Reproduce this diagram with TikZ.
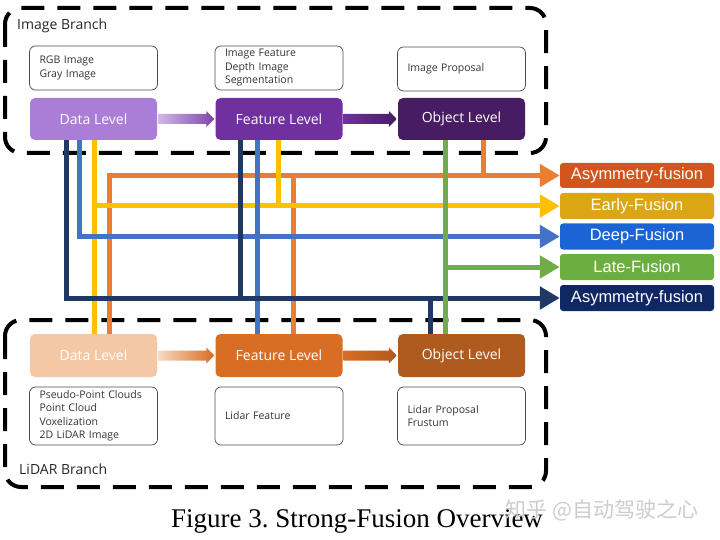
\documentclass[tikz,border=0pt]{standalone}
\usepackage{fontspec}
\newfontfamily\uifont{Open Sans}
\newfontfamily\arialfont{Liberation Sans}
\newfontfamily\capfont{Liberation Serif}
\newfontfamily\cjk{Noto Sans CJK SC}
\usetikzlibrary{arrows.meta,calc}
\definecolor{idatac}{HTML}{AA7DD7}
\definecolor{ifeatc}{HTML}{7030A0}
\definecolor{iobjc}{HTML}{481C62}
\definecolor{ldatac}{HTML}{F5C8A5}
\definecolor{lfeatc}{HTML}{D76E23}
\definecolor{lobjc}{HTML}{AF5A1E}
\definecolor{cnavy}{HTML}{1F3864}
\definecolor{cblue}{HTML}{4472C4}
\definecolor{cyellow}{HTML}{FFC000}
\definecolor{corange}{HTML}{ED7D31}
\definecolor{cgreen}{HTML}{70AD47}
\definecolor{fasymA}{HTML}{D2561C}
\definecolor{fearly}{HTML}{DBA514}
\definecolor{fdeep}{HTML}{1A64D6}
\definecolor{flate}{HTML}{6CAF41}
\definecolor{fasymB}{HTML}{0F2864}
\definecolor{txtgray}{HTML}{333333}
\frenchspacing
\begin{document}
\begin{tikzpicture}[x=1pt,y=-1pt,
  dashbox/.style={draw=black,line width=4pt,dash pattern=on 23pt off 13pt,rounded corners=16pt},
  level/.style={rounded corners=5pt,minimum width=127pt,minimum height=42pt,inner sep=0pt,text=white,font=\uifont\fontsize{14}{16}\selectfont},
  tbox/.style={draw=black!70,line width=0.7pt,rounded corners=6pt,minimum width=128pt,inner xsep=10pt,inner ysep=0pt,text width=108pt,align=left,text=txtgray,font=\uifont\fontsize{10.5}{13.5}\selectfont},
  fus/.style={rounded corners=3pt,minimum width=154pt,minimum height=25pt,inner sep=0pt,text=white,font=\arialfont\fontsize{16.5}{18}\selectfont},
  conn/.style={line width=5pt},
  fusarrow/.style={-{Triangle[length=20pt,width=22pt]}},
  branch/.style={anchor=west,inner sep=0pt,text=black!85,font=\uifont\fontsize{14}{16}\selectfont}
]
\useasboundingbox (0,0) rectangle (720,540);
% branch frames
\draw[dashbox] (5,8) rectangle (546,153);
\draw[dashbox] (5,320) rectangle (546,487);
\node[branch] (ibr) at (17,26) {Image Branch};
\node[branch] (lbr) at (19,469) {LiDAR Branch};
% image branch
\node[level,fill=idatac] (idata) at (93.5,119) {Data Level};
\node[level,fill=ifeatc] (ifeat) at (279,119) {Feature Level};
\node[level,fill=iobjc] (iobj) at (461.5,119) {Object Level};
\node[tbox,minimum height=44pt] (itxt1) at (93.5,68) {RGB Image\\Gray Image};
\node[tbox,minimum height=44pt] (itxt2) at (279,68) {Image Feature\\Depth Image\\Segmentation};
\node[tbox,minimum height=44pt] (itxt3) at (461.5,69) {Image Proposal};
% lidar branch
\node[level,fill=ldatac,minimum height=43pt] (ldata) at (93.5,355.5) {Data Level};
\node[level,fill=lfeatc,minimum height=43pt] (lfeat) at (279,355.5) {Feature Level};
\node[level,fill=lobjc,minimum height=43pt] (lobj) at (461.5,355.5) {Object Level};
\node[tbox,minimum height=58pt] (ltxt1) at (93.5,416) {Pseudo-Point Clouds\\Point Cloud\\Voxelization\\2D LiDAR Image};
\node[tbox,minimum height=58pt] (ltxt2) at (279,416) {Lidar Feature};
\node[tbox,minimum height=58pt] (ltxt3) at (461.5,416) {Lidar Proposal\\Frustum};
% fusion boxes
\node[fus,fill=fasymA] (asymA) at (637,175.5) {Asymmetry-fusion};
\node[fus,fill=fearly,minimum height=26pt] (early) at (637,206) {Early-Fusion};
\node[fus,fill=fdeep,minimum height=26pt] (deep) at (637,236.5) {Deep-Fusion};
\node[fus,fill=flate,minimum height=26pt] (late) at (637,267) {Late-Fusion};
\node[fus,fill=fasymB,minimum height=26pt] (asymB) at (637,298) {Asymmetry-fusion};
% gradient level arrows
\shade[left color=idatac!55!white,right color=ifeatc!90!white]
  ($(idata.east)+(1,-5)$) -- ($(ifeat.west)+(-9,-5)$) -- ($(ifeat.west)+(-9,-8)$) -- ($(ifeat.west)+(-1,0)$)
  -- ($(ifeat.west)+(-9,8)$) -- ($(ifeat.west)+(-9,5)$) -- ($(idata.east)+(1,5)$) -- cycle;
\shade[left color=ifeatc,right color=iobjc]
  ($(ifeat.east)+(1,-5)$) -- ($(iobj.west)+(-9,-5)$) -- ($(iobj.west)+(-9,-8)$) -- ($(iobj.west)+(-1,0)$)
  -- ($(iobj.west)+(-9,8)$) -- ($(iobj.west)+(-9,5)$) -- ($(ifeat.east)+(1,5)$) -- cycle;
\shade[left color=ldatac!70!white,right color=lfeatc]
  ($(ldata.east)+(1,-5)$) -- ($(lfeat.west)+(-9,-5)$) -- ($(lfeat.west)+(-9,-8)$) -- ($(lfeat.west)+(-1,0)$)
  -- ($(lfeat.west)+(-9,8)$) -- ($(lfeat.west)+(-9,5)$) -- ($(ldata.east)+(1,5)$) -- cycle;
\shade[left color=lfeatc,right color=lobjc]
  ($(lfeat.east)+(1,-5)$) -- ($(lobj.west)+(-9,-5)$) -- ($(lobj.west)+(-9,-8)$) -- ($(lobj.west)+(-1,0)$)
  -- ($(lobj.west)+(-9,8)$) -- ($(lobj.west)+(-9,5)$) -- ($(lfeat.east)+(1,5)$) -- cycle;
% x positions of the fusion connectors
\coordinate (xn1) at (66,0);
\coordinate (xn2) at (240,0);
\coordinate (xn3) at (430,0);
\coordinate (xb1) at (79,0);
\coordinate (xb2) at (257,0);
\coordinate (xy1) at (94,0);
\coordinate (xy2) at (278,0);
\coordinate (xo1) at (109,0);
\coordinate (xo2) at (293,0);
\coordinate (xo3) at (483,0);
\coordinate (xg) at (445,0);
% orange: asymmetry (image object + lidar data/feature)
\draw[conn,draw=corange,fusarrow] (ldata.north -| xo1) |- (asymA.west);
\draw[conn,draw=corange] (lfeat.north -| xo2) -- (xo2 |- asymA.west);
\draw[conn,draw=corange] (iobj.south -| xo3) -- (xo3 |- asymA.west);
% yellow: early fusion
\draw[conn,draw=cyellow] (idata.south -| xy1) -- (ldata.north -| xy1);
\draw[conn,draw=cyellow,fusarrow] (xy1 |- early.west) -- (early.west);
\draw[conn,draw=cyellow] (ifeat.south -| xy2) -- (xy2 |- early.west);
% blue: deep fusion
\draw[conn,draw=cblue,fusarrow] (idata.south -| xb1) |- (deep.west);
\draw[conn,draw=cblue] (ifeat.south -| xb2) -- (lfeat.north -| xb2);
% navy: asymmetry (image data/feature + lidar object)
\draw[conn,draw=cnavy,fusarrow] (idata.south -| xn1) |- (asymB.west);
\draw[conn,draw=cnavy] (ifeat.south -| xn2) -- (xn2 |- asymB.west);
\draw[conn,draw=cnavy] (lobj.north -| xn3) -- (xn3 |- asymB.west);
% green: late fusion
\draw[conn,draw=cgreen] (iobj.south -| xg) -- (lobj.north -| xg);
\draw[conn,draw=cgreen,fusarrow] (xg |- late.west) -- (late.west);
% caption and watermark
\node[inner sep=0pt,font=\capfont\fontsize{27}{30}\selectfont] (cap) at (357,521) {Figure 3. Strong-Fusion Overview};
\node[inner sep=0pt,text=black!20,font=\cjk\fontsize{21}{24}\selectfont] (wm) at (602,510) {知乎\ @自动驾驶之心};
\end{tikzpicture}
\end{document}
